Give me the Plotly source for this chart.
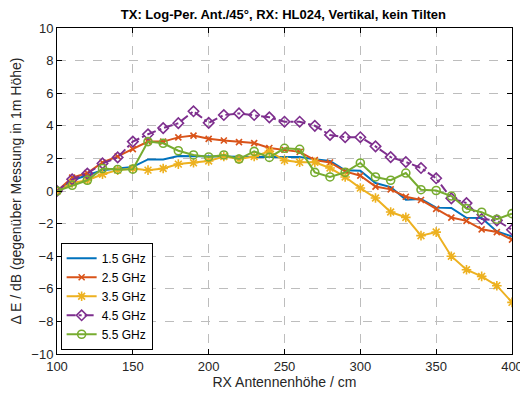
import plotly.graph_objects as go

heights = list(range(100, 401, 10))

s15 = [0, 0.66, 0.97, 1.28, 1.38, 1.48, 1.94, 1.94, 2.14, 2.14, 2.14, 2.14, 2.1, 2.08, 2.08, 2.08,
       2.08, 1.95, 1.85, 1.27, 1.25, 0.49, 0.24, -0.53, -0.49, -1.02, -1.04, -1.64, -1.66, -2.48, -2.79]
s25 = [0, 0.82, 1.1, 1.75, 2.12, 2.57, 3.03, 3.03, 3.29, 3.4, 3.2, 3.1, 3.0, 2.94, 2.64, 2.53,
       2.4, 1.9, 1.75, 1.2, 0.94, 0.27, 0.1, -0.35, -0.55, -1.1, -1.63, -1.83, -2.35, -2.52, -2.98]
s35 = [0, 0.5, 0.66, 1.03, 1.28, 1.38, 1.28, 1.38, 1.65, 1.73, 1.84, 2.12, 1.96, 2.12, 2.43, 1.88,
       1.76, 1.76, 1.41, 0.86, 0.18, -0.43, -1.29, -1.62, -2.74, -2.52, -4.0, -4.83, -5.24, -5.81, -6.83]
s45 = [0, 0.72, 1.07, 1.69, 2.06, 3.03, 3.48, 3.86, 4.16, 4.89, 4.18, 4.66, 4.76, 4.66, 4.52, 4.25,
       4.25, 4.0, 3.44, 3.3, 3.3, 2.74, 2.08, 1.78, 1.41, 0.78, -0.45, -0.74, -1.72, -1.8, -2.38]
s55 = [0, 0.35, 0.66, 1.38, 1.32, 1.34, 3.03, 2.93, 2.47, 2.21, 2.09, 2.21, 1.96, 2.43, 2.06, 2.62,
       2.56, 1.14, 0.86, 1.14, 1.72, 0.86, 0.66, 1.1, 0.08, 0.03, -0.31, -1.08, -1.3, -1.73, -1.39]

names = ["1.5 GHz", "2.5 GHz", "3.5 GHz", "4.5 GHz", "5.5 GHz"]
series = [s15, s25, s35, s45, s55]
colors = ["#0072BD", "#D95319", "#EDB120", "#7E2F8E", "#77AC30"]
symbols = [None, "x-thin-open", "asterisk-open", "diamond-open", "circle-open"]
dashes = ["solid", "solid", "solid", "dashdot", "solid"]
msizes = [0, 6, 8, 8, 8]

fig = go.Figure()
for name, ys, c, sym, d, ms in zip(names, series, colors, symbols, dashes, msizes):
    if sym is None:
        fig.add_trace(go.Scatter(x=heights, y=ys, name=name, mode="lines",
                                 line=dict(color=c, width=2, dash=d)))
    else:
        fig.add_trace(go.Scatter(x=heights, y=ys, name=name, mode="lines+markers",
                                 line=dict(color=c, width=2, dash=d),
                                 marker=dict(symbol=sym, size=ms, color=c,
                                             line=dict(color=c, width=1.6))))

axis_common = dict(showline=True, linecolor="black", linewidth=1, mirror="allticks",
                   ticks="inside", ticklen=5, tickcolor="black",
                   showgrid=True, gridcolor="#bdbdbd", griddash="dash", gridwidth=1,
                   zeroline=False, tickfont=dict(size=13, color="#262626"),
                   automargin=False)

fig.update_layout(
    width=520, height=399,
    margin=dict(l=57, r=8, t=28, b=45),
    paper_bgcolor="white", plot_bgcolor="white",
    font=dict(family="Liberation Sans, Arial, sans-serif", color="#262626"),
    title=dict(text="<b>TX: Log-Per. Ant./45°, RX: HL024, Vertikal, kein Tilten</b>",
               x=0.545, xanchor="center", y=0.965, yanchor="middle",
               font=dict(size=13, color="black")),
    xaxis=dict(range=[100, 400], tickvals=[100, 150, 200, 250, 300, 350, 400],
               ticklabeloverflow="allow",
               title=dict(text="RX Antennenhöhe / cm", font=dict(size=14), standoff=4),
               **axis_common),
    yaxis=dict(range=[-10, 10], tickvals=list(range(-10, 11, 2)),
               title=dict(text="Δ E / dB (gegenüber Messung in 1m Höhe)", font=dict(size=14), standoff=6),
               **axis_common),
    legend=dict(x=0.008, y=0.013, xanchor="left", yanchor="bottom",
                bgcolor="white", bordercolor="black", borderwidth=1,
                font=dict(size=12, color="black"), tracegroupgap=0,
                itemwidth=30),
    showlegend=True,
)

fig.write_html("out.html")
